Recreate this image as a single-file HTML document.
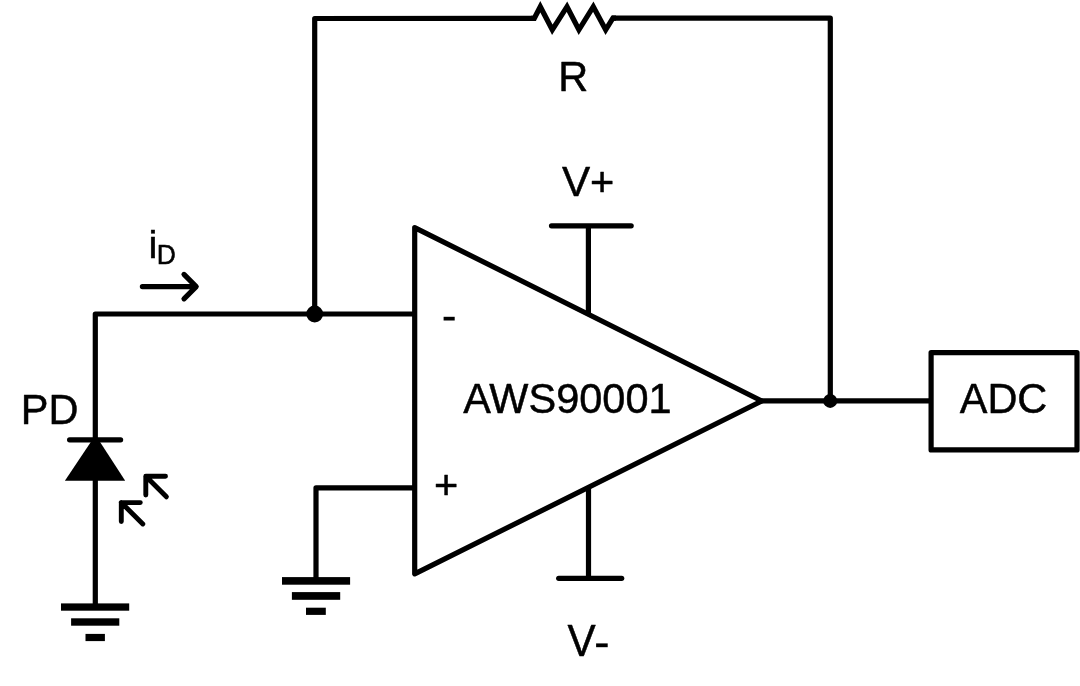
<!DOCTYPE html>
<html>
<head>
<meta charset="utf-8">
<title>Transimpedance amplifier</title>
<style>
  html, body { margin: 0; padding: 0; background: #ffffff; }
  body { width: 1080px; height: 686px; overflow: hidden; }
  svg { display: block; }
  text { font-family: "Liberation Sans", sans-serif; fill: #000; stroke: #000; stroke-width: 0.5px; stroke-linejoin: round; }
</style>
</head>
<body>
<svg width="1080" height="686" viewBox="0 0 1080 686">
  <rect x="0" y="0" width="1080" height="686" fill="#ffffff"/>
  <g fill="none" stroke="#000" stroke-width="5.2" stroke-linejoin="miter" stroke-linecap="butt" stroke-miterlimit="10">
    <!-- feedback loop with resistor -->
    <path d="M314.7 314 L314.7 18.5 L534 18.3" stroke-linejoin="round"/>
    <path d="M612 18.2 L830.3 18 L830.3 401" stroke-linejoin="round"/>
    <path d="M531 18.3 L534.3 18.3 L540.3 6.7 L552.3 29.8 L567 6.7 L578.9 29.8 L593.3 6.7 L605.7 29.8 L612.9 18.2 L616 18.2" stroke-width="5.2" stroke-linejoin="miter" stroke-miterlimit="10"/>
    <!-- PD to inverting input -->
    <path d="M95.3 604 L95.3 314 L414.7 314" stroke-linejoin="round"/>
    <!-- non-inverting input to ground -->
    <path d="M414.7 487.8 L316 487.8 L316 578" stroke-linejoin="round"/>
    <!-- op amp triangle -->
    <path d="M414.7 227.6 L761.8 401 L414.7 573.9 Z" stroke-linejoin="round"/>
    <!-- output -->
    <path d="M759 400.9 L931 400.9"/>
    <!-- V+ -->
    <path d="M588.4 225.8 L588.4 314"/>
    <path d="M551.5 225.8 L631.2 225.8" stroke-linecap="round"/>
    <!-- V- -->
    <path d="M588.5 488 L588.5 578.3"/>
    <path d="M558.7 578.3 L621.7 578.3" stroke-linecap="round"/>
    <!-- ADC box -->
    <rect x="931.1" y="352.6" width="145.9" height="97.3" stroke-linejoin="round"/>
    <!-- diode bar -->
    <path d="M69.6 439.8 L120.6 439.8" stroke-linecap="round"/>
    <!-- current arrow -->
    <path d="M142.4 286.6 L196 286.6 M184 274.4 L196.2 286.6 L184 298.8" stroke-linecap="round" stroke-linejoin="round"/>
    <!-- light arrows -->
    <g stroke-width="4.9" stroke-linecap="round" stroke-linejoin="round">
      <path d="M165.5 476.3 L145.8 476.3 L145.8 495 M145.8 476.3 L166.4 496.8"/>
      <path d="M140.3 502.6 L121.3 502.6 L121.3 521.6 M121.3 502.6 L142.8 524"/>
    </g>
  </g>
  <g fill="#000" stroke="none">
    <!-- diode triangle -->
    <path d="M95.5 435 L64.9 480.8 L125.2 480.8 Z"/>
    <!-- junction dots -->
    <circle cx="314.7" cy="314" r="8.4"/>
    <circle cx="830.2" cy="400.9" r="7"/>
    <!-- ground 1 -->
    <rect x="61" y="603.4" width="68.2" height="7.3"/>
    <rect x="71.1" y="618.3" width="48.2" height="7.4"/>
    <rect x="85.5" y="633.9" width="19.4" height="7.2"/>
    <!-- ground 2 -->
    <rect x="282" y="577.1" width="68.1" height="7.6"/>
    <rect x="291.9" y="592.1" width="48.3" height="7.7"/>
    <rect x="306" y="607.7" width="19.8" height="7.2"/>
  </g>
  <g font-size="41.5" style="opacity:0.999">
    <text transform="translate(558.3 90.5) scale(1 1.025)">R</text>
    <text transform="translate(561.9 196.3) scale(1 1.02)" font-size="42.3">V</text>
    <text x="590.1" y="195.8">+</text>
    <text transform="translate(567.6 656.2) scale(1 1.03)" font-size="42.3">V</text>
    <text transform="translate(463.2 412.7) scale(1 1.025)">AWS90001</text>
    <text transform="translate(959.7 413.3) scale(1 1.025)">ADC</text>
    <text transform="translate(20.8 423.9) scale(1 1.04)">PD</text>
    <text x="433.9" y="498.7">+</text>
    <text transform="translate(148.4 258.2) scale(1 0.985)" font-size="40.3">i</text>
    <text transform="translate(156.8 263.7) scale(1 1.04)" font-size="26.5">D</text>
  </g>
  <g fill="#000" stroke="none">
    <!-- hyphens -->
    <rect x="443.6" y="316.8" width="11.1" height="3.7"/>
    <rect x="596.1" y="643.4" width="11.6" height="3.8"/>
  </g>
</svg>
</body>
</html>
